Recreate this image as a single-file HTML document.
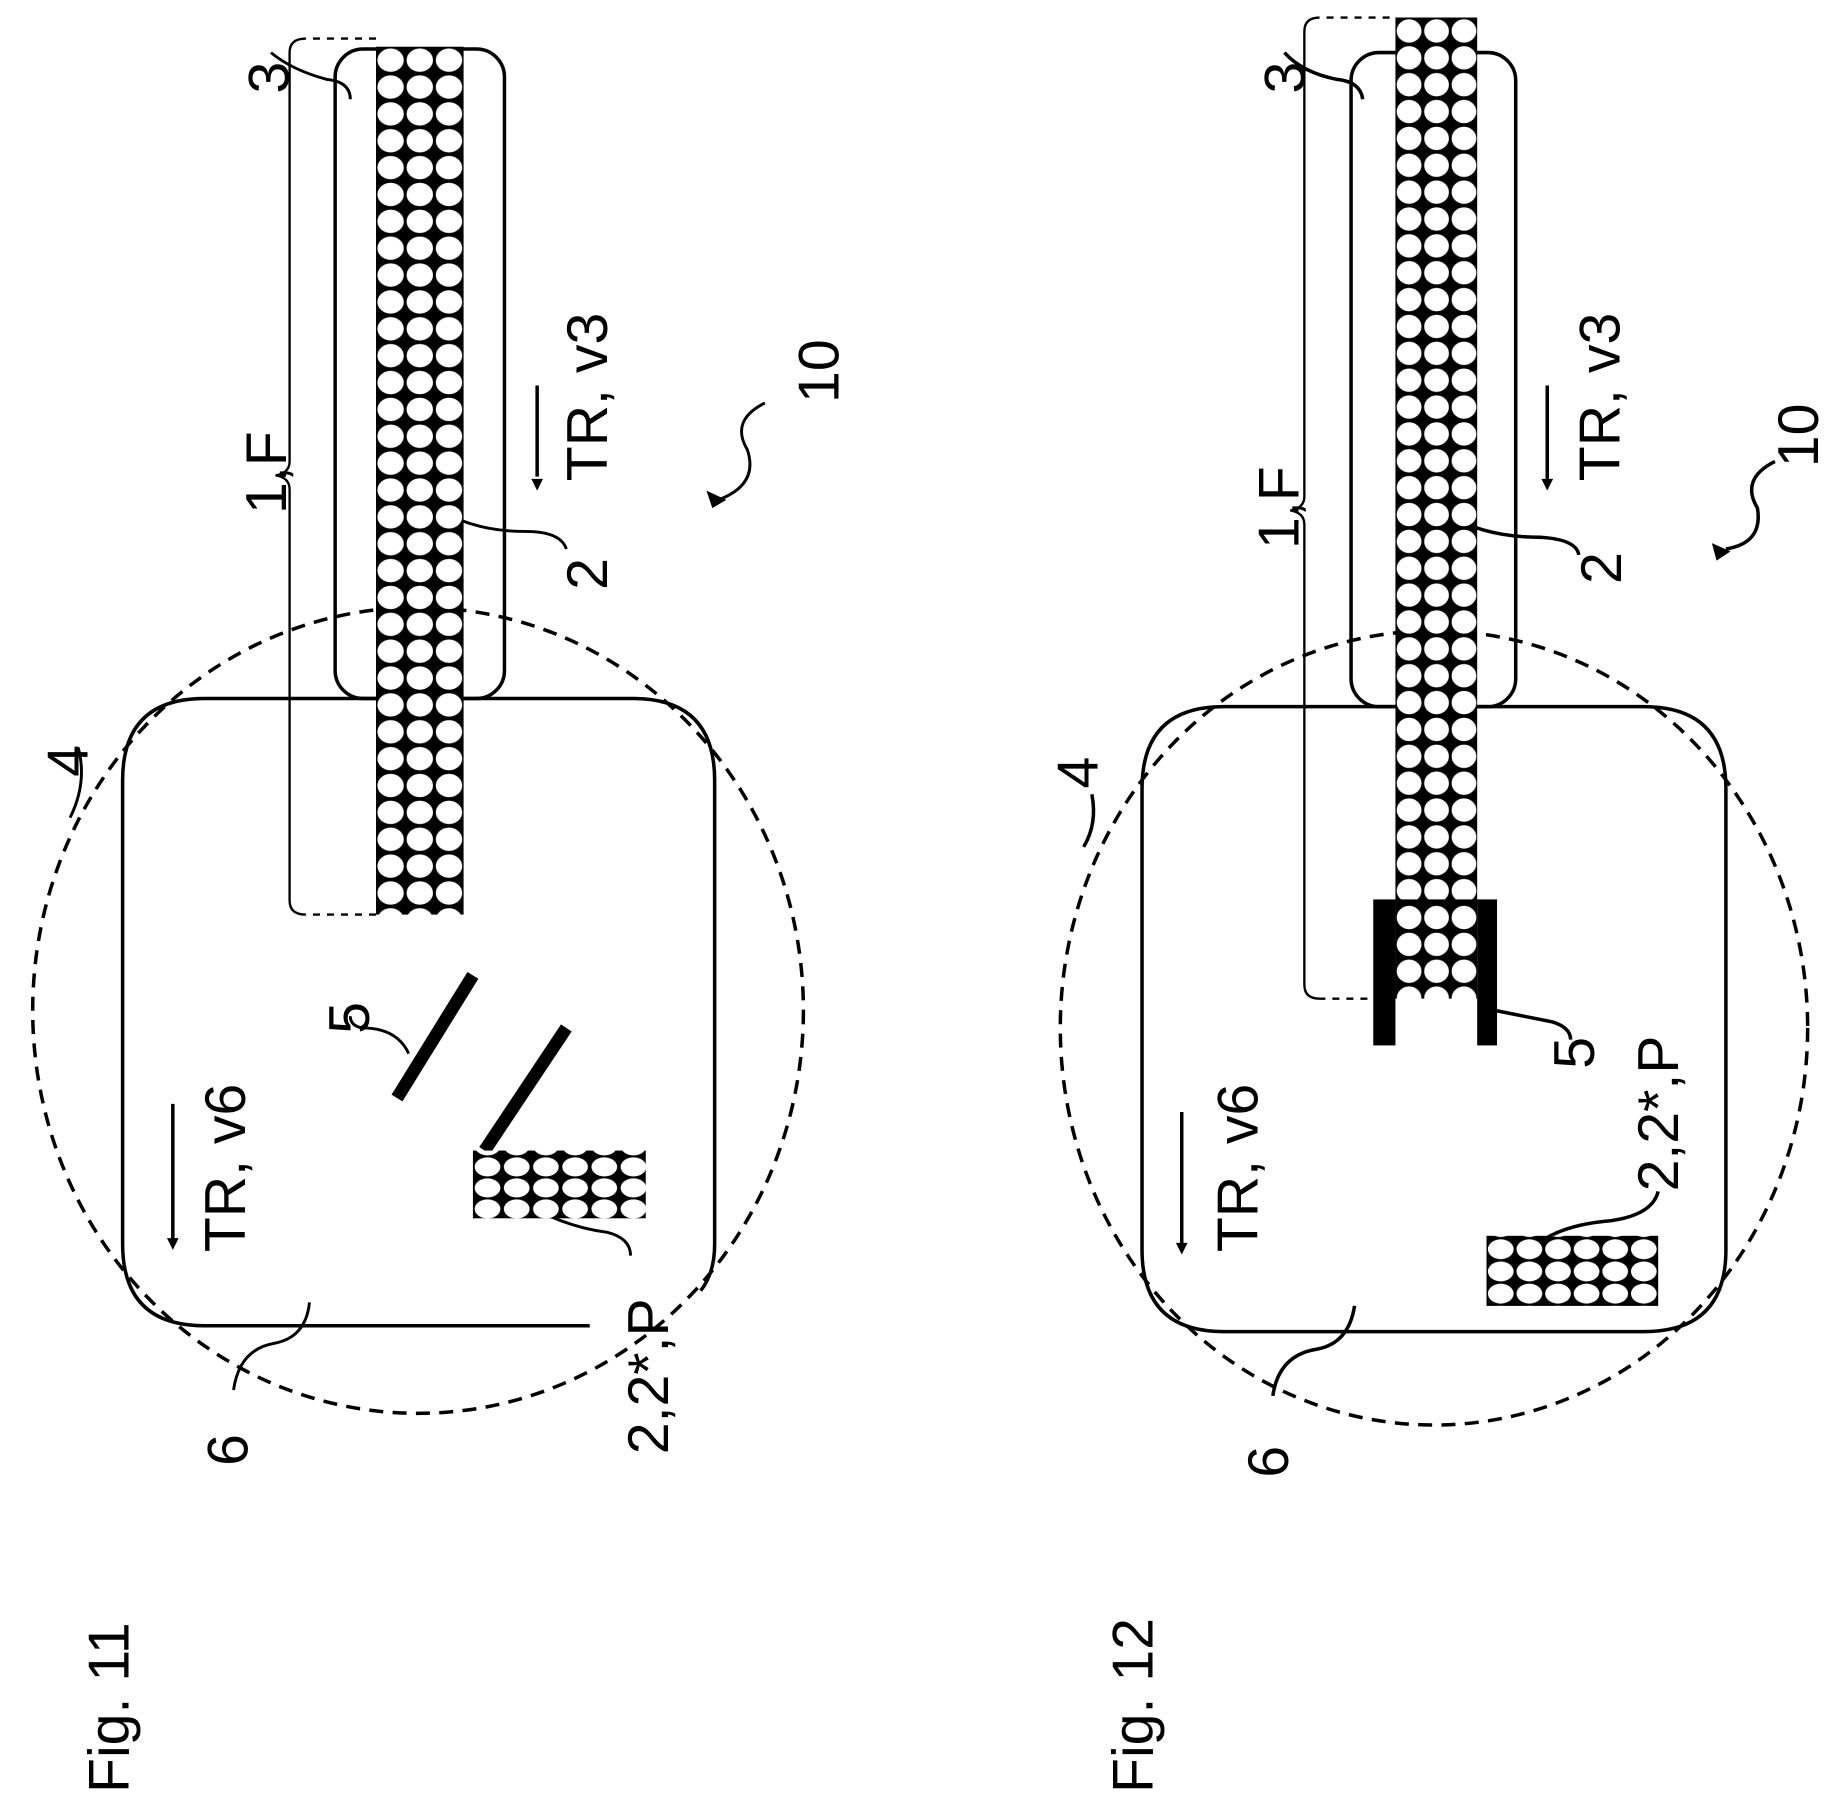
<!DOCTYPE html>
<html><head><meta charset="utf-8"><style>
html,body{margin:0;padding:0;background:#fff}
svg{display:block}
text{font-family:"Liberation Sans",sans-serif;font-size:49px;fill:#000}
</style></head><body>
<svg width="1831" height="1807" viewBox="0 0 1568 1547" preserveAspectRatio="none" xmlns="http://www.w3.org/2000/svg">
<defs>
<pattern id="p1" x="322" y="40" width="25" height="23" patternUnits="userSpaceOnUse"><rect width="25" height="23" fill="#000"/><ellipse cx="12.5" cy="11.5" rx="11.3" ry="10" fill="#fff"/></pattern>
<pattern id="p2" x="1195" y="15" width="23.5" height="23" patternUnits="userSpaceOnUse"><rect width="23.5" height="23" fill="#000"/><ellipse cx="11.7" cy="11.5" rx="10.6" ry="10" fill="#fff"/></pattern>
<pattern id="p3" x="405" y="990" width="25" height="18" patternUnits="userSpaceOnUse"><rect width="25" height="18" fill="#000"/><ellipse cx="12.5" cy="9" rx="11" ry="8.2" fill="#fff"/></pattern>
<pattern id="p4" x="1273" y="1060" width="24.5" height="19" patternUnits="userSpaceOnUse"><rect width="24.5" height="19" fill="#000"/><ellipse cx="12.2" cy="9.5" rx="11" ry="8.5" fill="#fff"/></pattern>
</defs>
<g fill="none" stroke="#000" stroke-width="3">
<g>
<ellipse cx="358" cy="865" rx="330" ry="345" stroke-dasharray="12 8"/>
<path d="M505 1135 H175 Q105 1135 105 1065 V668 Q105 598 175 598 H542 Q612 598 612 668 V1065 Q612 1090 600 1105"/>
<rect x="287" y="42" width="145" height="556" rx="24"/>
<path d="M322 33 H262 Q248 33 248 45 V395 Q248 405 236 407 Q248 409 248 419 V771 Q248 783 262 783 H322" stroke-width="2"/>
<path d="M262 33 H322 M262 783 H322" stroke="#fff" stroke-width="3" stroke-dasharray="6 6"/>
<path d="M148 945 V1065"/>
<path d="M460 330 V408"/>
<path d="M655 345 Q625 360 640 385 Q650 415 615 428" stroke-width="2.5"/>
<path d="M367 430 Q400 455 450 455 Q480 455 485 470" stroke-width="2.5"/>
<path d="M300 85 Q300 70 280 68 Q250 60 232 45" stroke-width="2.5"/>
<path d="M67 640 Q75 670 60 700" stroke-width="2.5"/>
<path d="M265 1115 Q262 1145 235 1150 Q205 1155 200 1190" stroke-width="2.5"/>
<path d="M350 902 Q340 880 310 880 Q300 878 300 870" stroke-width="2.5"/>
<path d="M440 1025 Q480 1050 520 1055 Q540 1060 540 1075" stroke-width="2.5"/>
</g>
<g>
<ellipse cx="1228" cy="880" rx="320" ry="340" stroke-dasharray="12 8"/>
<path d="M1048 1140 Q978 1140 978 1070 V675 Q978 605 1048 605 H1408 Q1478 605 1478 675 V1070 Q1478 1140 1408 1140 Z"/>
<rect x="1157" y="45" width="141" height="560" rx="24"/>
<path d="M1195 15 H1130 Q1117 15 1117 27 V425 Q1117 435 1105 437 Q1117 439 1117 449 V843 Q1117 855 1130 855 H1178" stroke-width="2"/>
<path d="M1130 15 H1195 M1135 855 H1178" stroke="#fff" stroke-width="3" stroke-dasharray="6 6"/>
<path d="M1012 952 V1068"/>
<path d="M1325 330 V410"/>
<path d="M1520 395 Q1490 410 1505 435 Q1510 465 1478 470"/>
<path d="M1240 440 Q1270 460 1320 460 Q1350 462 1352 475"/>
<path d="M1167 85 Q1165 70 1145 68 Q1115 62 1100 45"/>
<path d="M935 680 Q940 705 928 725"/>
<path d="M1160 1118 Q1155 1150 1128 1155 Q1095 1160 1090 1195"/>
<path d="M1280 865 Q1305 870 1330 875 Q1345 880 1345 890"/>
<path d="M1305 1080 Q1320 1050 1380 1045 Q1415 1040 1420 1020"/>
</g>
</g>
<g fill="#000">
<rect x="322" y="40" width="75" height="743" fill="url(#p1)"/>
<line x1="340" y1="940" x2="405" y2="835" stroke="#000" stroke-width="11"/>
<line x1="415" y1="985" x2="485" y2="880" stroke="#000" stroke-width="11"/>
<rect x="405" y="985" width="148" height="58" fill="url(#p3)"/>
<path d="M455 410 L465 410 L460 420 Z"/>
<path d="M143 1060 L153 1060 L148 1070 Z"/>
<path d="M605 420 L622 428 L610 435 Z"/>
<rect x="1195" y="15" width="70" height="840" fill="url(#p2)"/>
<rect x="1176" y="770" width="19" height="125"/>
<rect x="1265" y="770" width="17" height="125"/>
<rect x="1195" y="770" width="70" height="5"/>
<rect x="1273" y="1058" width="147" height="60" fill="url(#p4)"/>
<path d="M1320 410 L1330 410 L1325 420 Z"/>
<path d="M1007 1064 L1017 1064 L1012 1074 Z"/>
<path d="M1466 465 L1482 472 L1470 480 Z"/>
</g>
<g>
<text transform="translate(110,1535) rotate(-90)" font-size="62">Fig. 11</text>
<text transform="translate(987,1535) rotate(-90)" font-size="62">Fig. 12</text>
<text transform="translate(245,440) rotate(-90)">1,F</text>
<text transform="translate(247,80) rotate(-90)">3</text>
<text transform="translate(520,412) rotate(-90)">TR, v3</text>
<text transform="translate(520,505) rotate(-90)">2</text>
<text transform="translate(718,345) rotate(-90)">10</text>
<text transform="translate(75,665) rotate(-90)">4</text>
<text transform="translate(212,1255) rotate(-90)">6</text>
<text transform="translate(316,885) rotate(-90)">5</text>
<text transform="translate(210,1072) rotate(-90)">TR, v6</text>
<text transform="translate(572,1245) rotate(-90)">2,2*,P</text>
<text transform="translate(1112,470) rotate(-90)">1,F</text>
<text transform="translate(1117,80) rotate(-90)">3</text>
<text transform="translate(1387,412) rotate(-90)">TR, v3</text>
<text transform="translate(1388,500) rotate(-90)">2</text>
<text transform="translate(1557,400) rotate(-90)">10</text>
<text transform="translate(940,675) rotate(-90)">4</text>
<text transform="translate(1103,1265) rotate(-90)">6</text>
<text transform="translate(1365,915) rotate(-90)">5</text>
<text transform="translate(1077,1072) rotate(-90)">TR, v6</text>
<text transform="translate(1437,1020) rotate(-90)">2,2*,P</text>
</g>
</svg>
</body></html>
